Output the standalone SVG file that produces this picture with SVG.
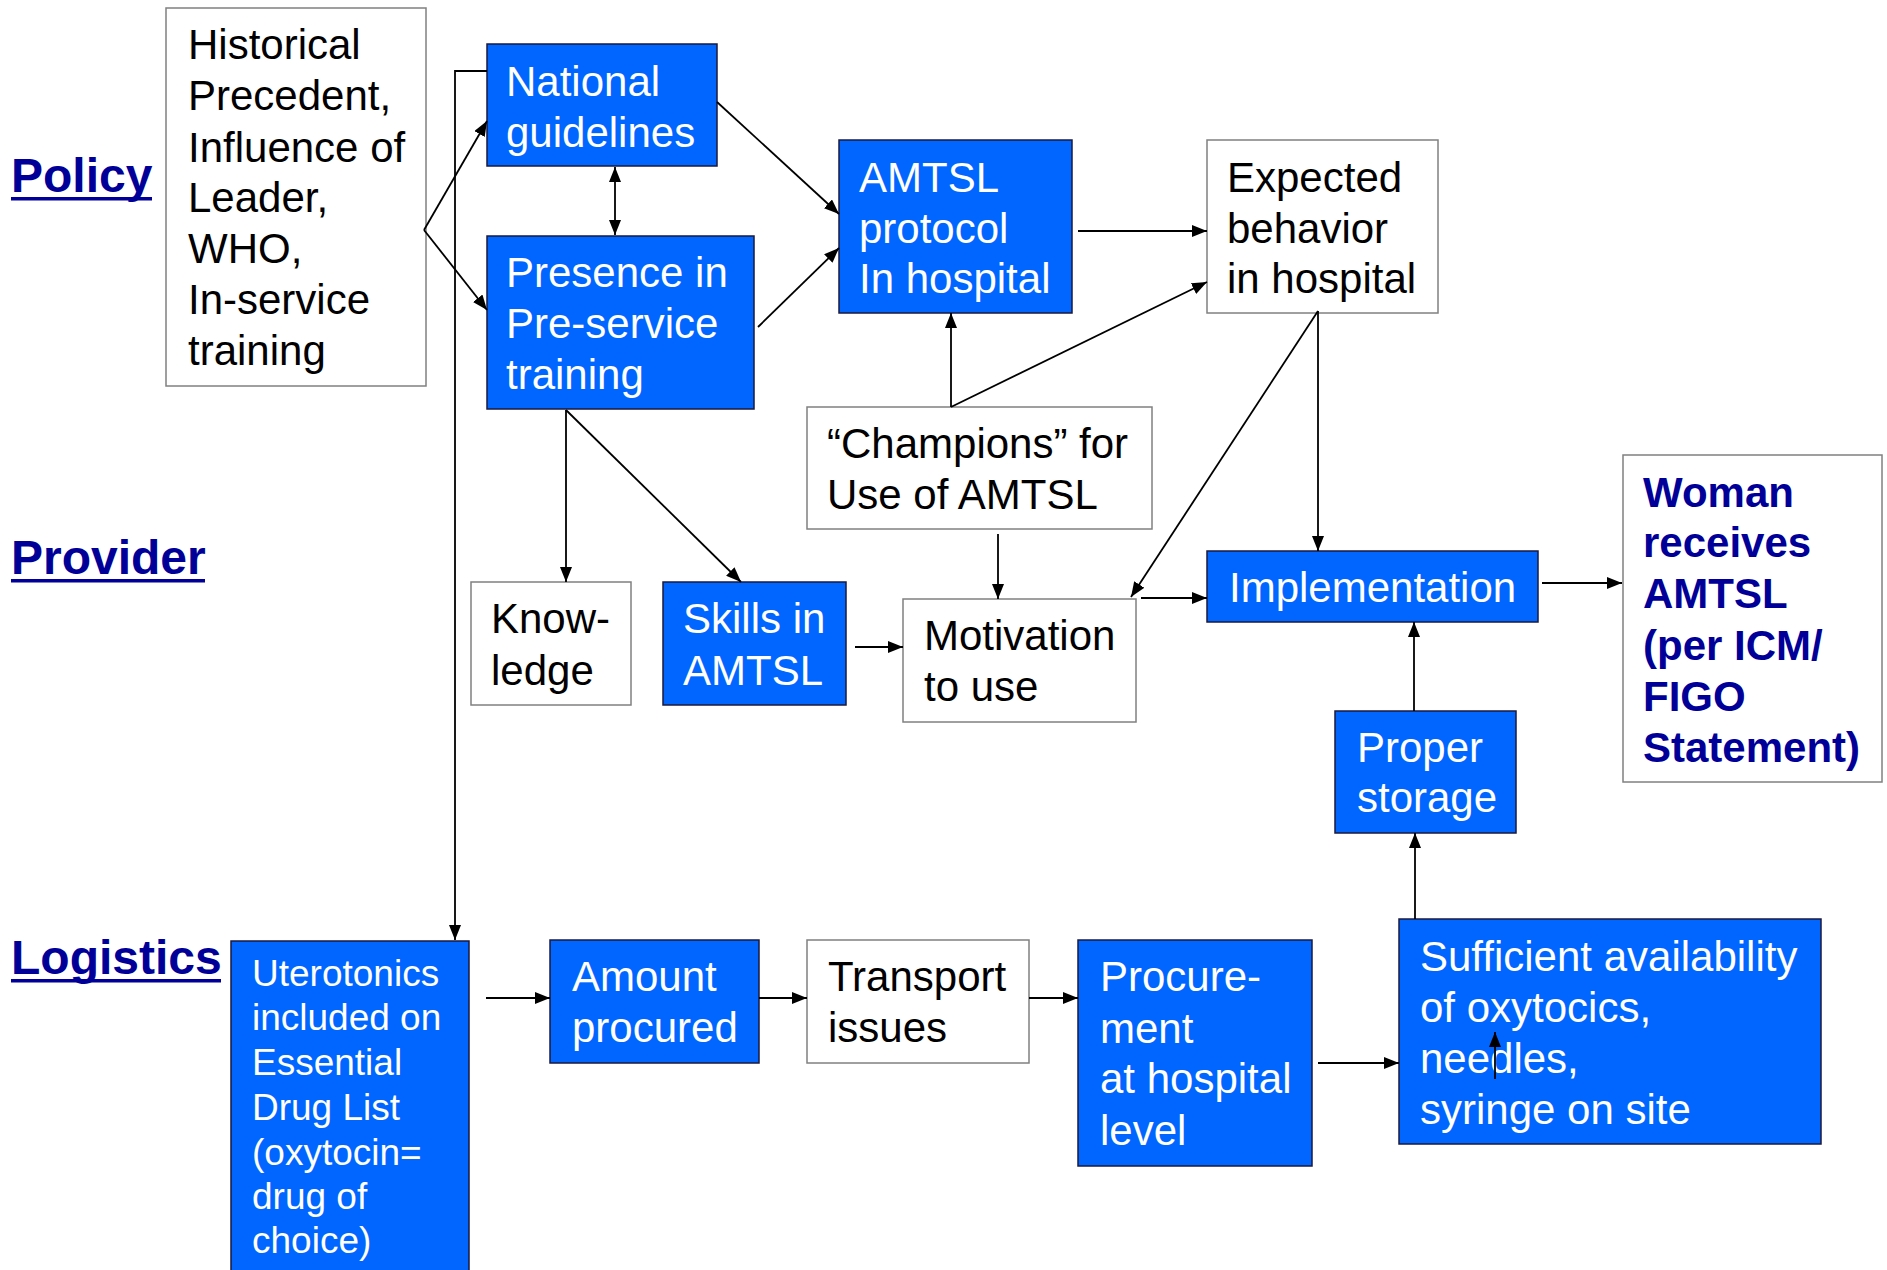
<svg xmlns="http://www.w3.org/2000/svg" width="1887" height="1270" viewBox="0 0 1887 1270">
<defs>
<style>
.t{font-family:"Liberation Sans",Arial,sans-serif;font-size:42px}
.w{fill:#ffffff}
.k{fill:#000000}
.u{font-size:37px}
.lab{font-family:"Liberation Sans",Arial,sans-serif;font-size:48px;font-weight:bold;fill:#000099}
.nv{font-family:"Liberation Sans",Arial,sans-serif;font-size:42px;font-weight:bold;fill:#000099}
.bb{fill:#0066ff;stroke:#1a1a40;stroke-width:1.5}
.wb{fill:#ffffff;stroke:#808080;stroke-width:1.5}
.c{fill:none;stroke:#000;stroke-width:1.8}
.a{marker-end:url(#ah)}
</style>
<marker id="ah" viewBox="0 0 15 12" refX="15" refY="6" markerWidth="15" markerHeight="12" markerUnits="userSpaceOnUse" orient="auto-start-reverse">
<path d="M0,0 L15,6 L0,12 z" fill="#000"/>
</marker>
</defs>
<rect width="1887" height="1270" fill="#ffffff"/>

<g id="labels">
<text class="lab" x="11" y="192">Policy</text>
<rect x="11" y="197" width="141" height="3.5" fill="#000099"/>
<text class="lab" x="11" y="574">Provider</text>
<rect x="11" y="579" width="194" height="3.5" fill="#000099"/>
<text class="lab" x="11" y="974">Logistics</text>
<rect x="11" y="979" width="210" height="3.5" fill="#000099"/>
</g>

<g id="historical">
<rect class="wb" x="166" y="8" width="260" height="378"/>
<text class="t k" x="188"><tspan x="188" y="59">Historical</tspan><tspan x="188" y="110">Precedent,</tspan><tspan x="188" y="162">Influence of</tspan><tspan x="188" y="212">Leader,</tspan><tspan x="188" y="263">WHO,</tspan><tspan x="188" y="314">In-service</tspan><tspan x="188" y="365">training</tspan></text>
</g>

<g id="national">
<rect class="bb" x="487" y="44" width="230" height="122"/>
<text class="t w"><tspan x="506" y="96">National</tspan><tspan x="506" y="147">guidelines</tspan></text>
</g>

<g id="presence">
<rect class="bb" x="487" y="236" width="267" height="173"/>
<text class="t w"><tspan x="506" y="287">Presence in</tspan><tspan x="506" y="338">Pre-service</tspan><tspan x="506" y="389">training</tspan></text>
</g>

<g id="amtsl">
<rect class="bb" x="839" y="140" width="233" height="173"/>
<text class="t w"><tspan x="859" y="192">AMTSL</tspan><tspan x="859" y="243">protocol</tspan><tspan x="859" y="293">In hospital</tspan></text>
</g>

<g id="expected">
<rect class="wb" x="1207" y="140" width="231" height="173"/>
<text class="t k"><tspan x="1227" y="192">Expected</tspan><tspan x="1227" y="243">behavior</tspan><tspan x="1227" y="293">in hospital</tspan></text>
</g>

<g id="champions">
<rect class="wb" x="807" y="407" width="345" height="122"/>
<text class="t k"><tspan x="827" y="458">“Champions” for</tspan><tspan x="827" y="509">Use of AMTSL</tspan></text>
</g>

<g id="knowledge">
<rect class="wb" x="471" y="582" width="160" height="123"/>
<text class="t k"><tspan x="491" y="633">Know-</tspan><tspan x="491" y="685">ledge</tspan></text>
</g>

<g id="skills">
<rect class="bb" x="663" y="582" width="183" height="123"/>
<text class="t w"><tspan x="683" y="633">Skills in</tspan><tspan x="683" y="685">AMTSL</tspan></text>
</g>

<g id="motivation">
<rect class="wb" x="903" y="599" width="233" height="123"/>
<text class="t k"><tspan x="924" y="650">Motivation</tspan><tspan x="924" y="701">to use</tspan></text>
</g>

<g id="implementation">
<rect class="bb" x="1207" y="551" width="331" height="71"/>
<text class="t w" x="1229" y="602">Implementation</text>
</g>

<g id="woman">
<rect class="wb" x="1623" y="455" width="259" height="327"/>
<text class="nv"><tspan x="1643" y="507">Woman</tspan><tspan x="1643" y="557">receives</tspan><tspan x="1643" y="608">AMTSL</tspan><tspan x="1643" y="660">(per ICM/</tspan><tspan x="1643" y="711">FIGO</tspan><tspan x="1643" y="762">Statement)</tspan></text>
</g>

<g id="storage">
<rect class="bb" x="1335" y="711" width="181" height="122"/>
<text class="t w"><tspan x="1357" y="762">Proper</tspan><tspan x="1357" y="812">storage</tspan></text>
</g>

<g id="uterotonics">
<rect class="bb" x="231" y="941" width="238" height="340"/>
<text class="t u w"><tspan x="252" y="986">Uterotonics</tspan><tspan x="252" y="1030">included on</tspan><tspan x="252" y="1075">Essential</tspan><tspan x="252" y="1120">Drug List</tspan><tspan x="252" y="1165">(oxytocin=</tspan><tspan x="252" y="1209">drug of</tspan><tspan x="252" y="1253">choice)</tspan></text>
</g>

<g id="amount">
<rect class="bb" x="550" y="940" width="209" height="123"/>
<text class="t w"><tspan x="572" y="991">Amount</tspan><tspan x="572" y="1042">procured</tspan></text>
</g>

<g id="transport">
<rect class="wb" x="807" y="940" width="222" height="123"/>
<text class="t k"><tspan x="828" y="991">Transport</tspan><tspan x="828" y="1042">issues</tspan></text>
</g>

<g id="procurement">
<rect class="bb" x="1078" y="940" width="234" height="226"/>
<text class="t w"><tspan x="1100" y="991">Procure-</tspan><tspan x="1100" y="1043">ment</tspan><tspan x="1100" y="1093">at hospital</tspan><tspan x="1100" y="1145">level</tspan></text>
</g>

<g id="sufficient">
<rect class="bb" x="1399" y="919" width="422" height="225"/>
<text class="t w"><tspan x="1420" y="971">Sufficient availability</tspan><tspan x="1420" y="1022">of oxytocics,</tspan><tspan x="1420" y="1073">needles,</tspan><tspan x="1420" y="1124">syringe on site</tspan></text>
</g>

<g id="connectors">
<path class="c a" d="M424,230 L487,121"/>
<path class="c a" d="M424,230 L487,310"/>
<path class="c a" d="M615,167 L615,235" marker-start="url(#ah)"/>
<path class="c a" d="M717,102 L839,214"/>
<path class="c a" d="M758,327 L839,248"/>
<path class="c a" d="M1078,231 L1207,231"/>
<path class="c a" d="M951,407 L951,313"/>
<path class="c a" d="M951,407 L1207,282"/>
<path class="c a" d="M1318,311 L1318,551"/>
<path class="c a" d="M1318,311 L1131,597"/>
<path class="c a" d="M566,410 L566,582"/>
<path class="c a" d="M566,410 L741,582"/>
<path class="c a" d="M998,534 L998,599"/>
<path class="c a" d="M855,647 L903,647"/>
<path class="c a" d="M1141,598 L1207,598"/>
<path class="c a" d="M1542,583 L1622,583"/>
<path class="c a" d="M1414,711 L1414,622"/>
<path class="c a" d="M1415,919 L1415,833"/>
<path class="c a" d="M487,71 H455 V940"/>
<path class="c a" d="M486,998 L550,998"/>
<path class="c a" d="M759,998 L807,998"/>
<path class="c a" d="M1029,998 L1078,998"/>
<path class="c a" d="M1318,1063 L1399,1063"/>
<path class="c a" d="M1495,1079 L1495,1032"/>
</g>
</svg>
